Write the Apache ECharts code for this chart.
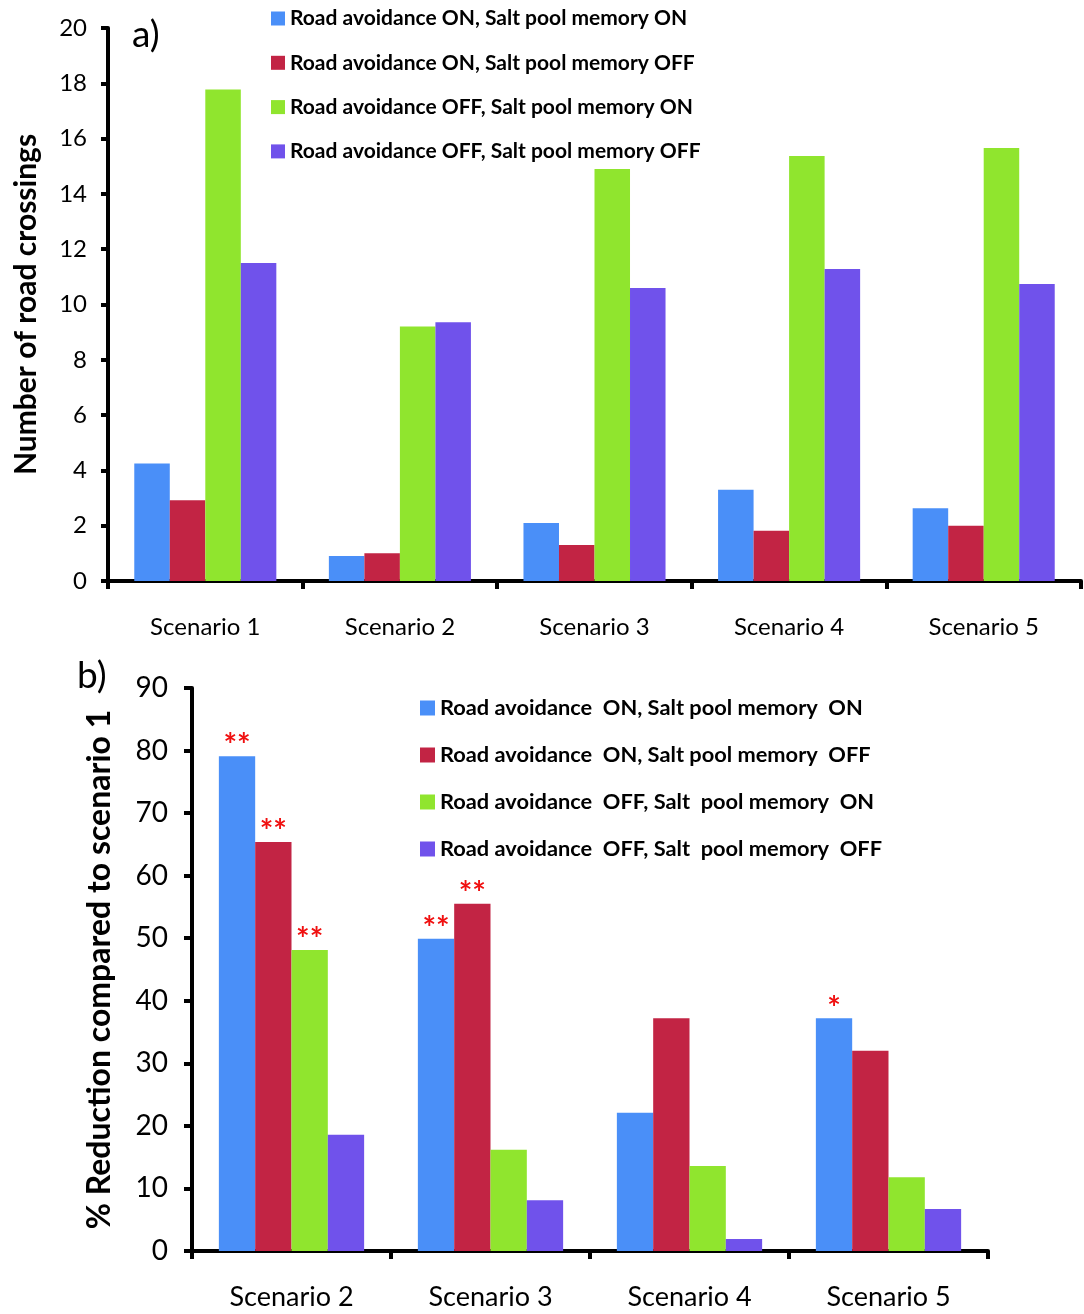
<!DOCTYPE html>
<html><head><meta charset="utf-8">
<script src="https://cdn.jsdelivr.net/npm/echarts@6/dist/echarts.min.js"></script>
<style>html,body{margin:0;padding:0;background:#fff}#c{width:1084px;height:1314px}</style>
</head><body><div id="c"></div>
<script>
const catsA = ['Scenario 1','Scenario 2','Scenario 3','Scenario 4','Scenario 5'];
const catsB = ['Scenario 2','Scenario 3','Scenario 4','Scenario 5'];
const namesA = ['Road avoidance ON, Salt pool memory ON','Road avoidance ON, Salt pool memory OFF','Road avoidance OFF, Salt pool memory ON','Road avoidance OFF, Salt pool memory OFF'];
const namesB = ['Road avoidance  ON, Salt pool memory  ON','Road avoidance  ON, Salt pool memory  OFF','Road avoidance  OFF, Salt  pool memory  ON','Road avoidance  OFF, Salt  pool memory  OFF'];
const crossOnOn   = [4.25, 0.9, 2.1, 3.3, 2.63];
const crossOnOff  = [2.92, 1.0, 1.3, 1.82, 2.0];
const crossOffOn  = [17.78, 9.2, 14.9, 15.37, 15.66];
const crossOffOff = [11.5, 9.36, 10.6, 11.28, 10.74];
const redOnOn   = [79.1, 49.9, 22.1, 37.2];
const redOnOff  = [65.4, 55.5, 37.2, 32.0];
const redOffOn  = [48.1, 16.2, 13.6, 11.8];
const redOffOff = [18.6, 8.1, 1.9, 6.7];
const sigOnOn   = ['**','**','','*'];
const sigOnOff  = ['**','**','',''];
const sigOffOn  = ['**','','',''];
const sigOffOff = ['','','',''];
const ticksA = [0,2,4,6,8,10,12,14,16,18,20];
const ticksB = [0,10,20,30,40,50,60,70,80,90];
const colors = ['#4A8FF8','#C22444','#90E52E','#7052EB'];

const FONT = 'Lato, "Open Sans", sans-serif';
const chart = echarts.init(document.getElementById('c'), null, {renderer:'canvas'});
const dataA = [crossOnOn, crossOnOff, crossOffOn, crossOffOff];
const dataB = [redOnOn, redOnOff, redOffOn, redOffOff];
const sigs = [sigOnOn, sigOnOff, sigOffOn, sigOffOff];

const axisLine = {show:true, lineStyle:{color:'#000', width:4}};
const series = [];
dataA.forEach((d,i)=>series.push({
  name:namesA[i], type:'bar', xAxisIndex:0, yAxisIndex:0, data:d,
  barGap:'0%', barCategoryGap:'27%', itemStyle:{color:colors[i]}
}));
dataB.forEach((d,i)=>series.push({
  name:namesB[i], type:'bar', xAxisIndex:1, yAxisIndex:1,
  data:d.map((v,j)=>({value:v, label:{show:sigs[i][j]!=='' , formatter:sigs[i][j]}})),
  barGap:'0%', barCategoryGap:'27%', itemStyle:{color:colors[i]},
  label:{position:'top', distance:-7, color:'#F01010', fontWeight:'bold', fontSize:32, fontFamily:FONT}
}));

chart.setOption({
  animation:false,
  textStyle:{fontFamily:FONT},
  title:[
    {text:'a)', left:127, top:12, textStyle:{fontSize:37, fontWeight:'normal', color:'#000', fontFamily:FONT}},
    {text:'b)', left:72, top:653, textStyle:{fontSize:37, fontWeight:'normal', color:'#000', fontFamily:FONT}}
  ],
  legend:[
    {data:namesA, orient:'vertical', left:266, top:3, icon:'rect', itemWidth:14, itemHeight:14, itemGap:23.3, itemTextGap:5,
     textStyle:{fontSize:21, fontWeight:'bold', color:'#000', lineHeight:21, fontFamily:FONT}},
    {data:namesB, orient:'vertical', left:415, top:692, icon:'rect', itemWidth:15, itemHeight:15, itemGap:25, itemTextGap:7,
     textStyle:{fontSize:21.8, fontWeight:'bold', color:'#000', lineHeight:22, fontFamily:FONT}}
  ],
  grid:[
    {left:108, right:3, top:28, bottom:733, containLabel:false},
    {left:192, right:96, top:688, bottom:63, containLabel:false}
  ],
  xAxis:[
    {type:'category', gridIndex:0, data:catsA, axisLine, axisTick:{show:true, alignWithLabel:false, length:8, lineStyle:{color:'#000',width:4}},
     axisLabel:{margin:34, fontSize:24, color:'#000', fontFamily:FONT}},
    {type:'category', gridIndex:1, data:catsB, axisLine, axisTick:{show:true, alignWithLabel:false, length:8, lineStyle:{color:'#000',width:4}},
     axisLabel:{margin:33, fontSize:27, color:'#000', fontFamily:FONT}}
  ],
  yAxis:[
    {type:'value', gridIndex:0, min:ticksA[0], max:ticksA[ticksA.length-1], interval:2, splitLine:{show:false}, axisLine,
     axisTick:{show:true, length:7, lineStyle:{color:'#000', width:4}},
     axisLabel:{margin:21, fontSize:24, color:'#000', fontFamily:FONT},
     name:'Number of road crossings', nameLocation:'middle', nameGap:67, nameRotate:90,
     nameTextStyle:{fontSize:30, fontWeight:'bold', color:'#000', fontFamily:FONT}},
    {type:'value', gridIndex:1, min:ticksB[0], max:ticksB[ticksB.length-1], interval:10, splitLine:{show:false}, axisLine,
     axisTick:{show:true, length:8, lineStyle:{color:'#000', width:4}},
     axisLabel:{margin:24, fontSize:28, color:'#000', fontFamily:FONT},
     name:'% Reduction compared to scenario 1', nameLocation:'middle', nameGap:76, nameRotate:90,
     nameTextStyle:{fontSize:32, fontWeight:'bold', color:'#000', fontFamily:FONT}}
  ],
  series
});
</script></body></html>
